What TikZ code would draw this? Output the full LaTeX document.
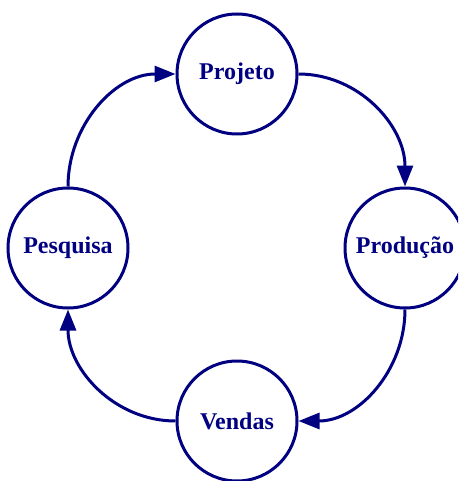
\documentclass[tikz,border=0pt]{standalone}
\usepackage{fontspec}
\setmainfont{Liberation Serif}
\usetikzlibrary{arrows.meta}
\definecolor{navy}{RGB}{0,0,128}
\tikzset{
  stage/.style={circle, draw=navy, line width=3pt, minimum size=120pt, inner sep=0pt,
    text=navy, font=\fontsize{24}{28}\selectfont\bfseries},
  flow/.style={draw=navy, line width=3pt, -{Triangle[length=21pt,width=16pt]}, navy}
}
\begin{document}
\begin{tikzpicture}[x=1pt,y=-1pt]
  \useasboundingbox (0,0) rectangle (458,481);
  \clip (0,0) rectangle (458,481);
  \node[stage] (proj) at (237,74)  {Projeto};
  \node[stage] (pesq) at (68,248)  {Pesquisa};
  \node[stage] (prod) at (405,248) {Produção};
  \node[stage] (vend) at (237,421) {Vendas};
  \draw[flow] (proj.east) to[out=0,in=90]    (prod.north);
  \draw[flow] (prod.south) to[out=-90,in=0]  (vend.east);
  \draw[flow] (vend.west) to[out=180,in=-90] (pesq.south);
  \draw[flow] (pesq.north) to[out=90,in=180] (proj.west);
\end{tikzpicture}
\end{document}
